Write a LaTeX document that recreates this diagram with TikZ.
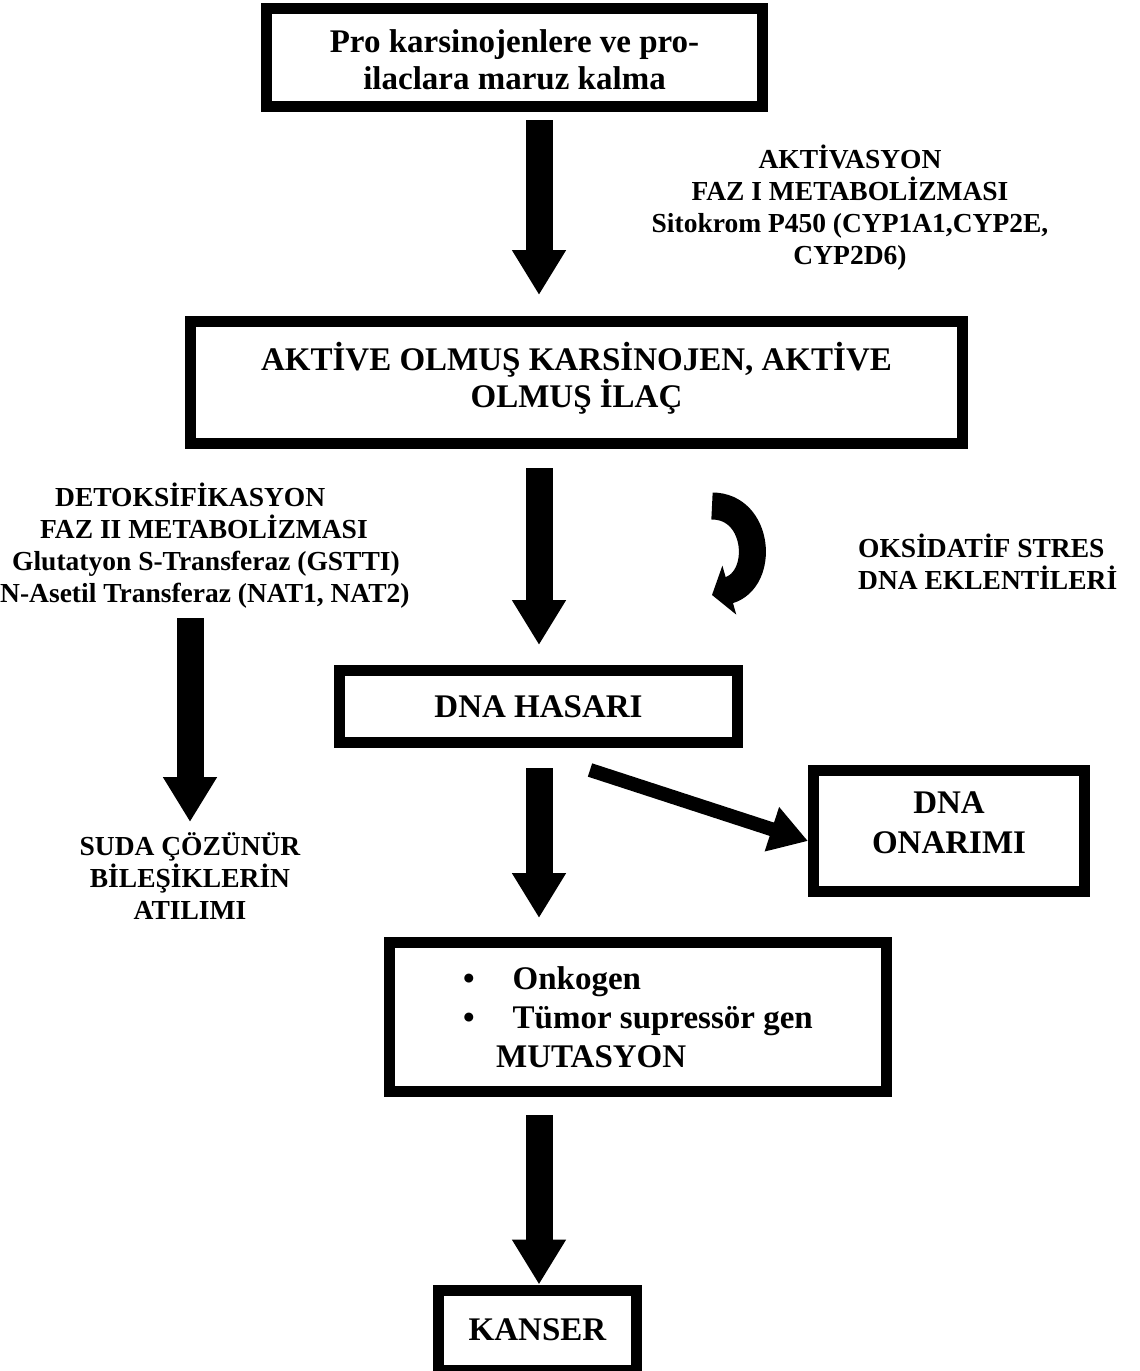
\documentclass[tikz,border=0pt]{standalone}
\usepackage{fontspec}
\setmainfont{Liberation Serif}
\usetikzlibrary{arrows.meta}
\tikzset{
  box/.style={draw, line width=11pt, align=center, inner sep=0pt,
    font=\fontsize{33}{37}\selectfont\bfseries},
  lbl/.style={align=center, inner sep=0pt, font=\fontsize{27.5}{32}\selectfont\bfseries},
  bigarrow/.style={line width=27pt, -{Triangle[length=45pt,width=51pt]}},
  thinarrow/.style={line width=14pt, -{Triangle[length=38pt,width=44pt]}},
  curvearrow/.style={line width=27pt, -{Triangle[length=18pt,width=50pt]}},
}
\begin{document}
\begin{tikzpicture}[x=1pt, y=-1pt]
\useasboundingbox (0,0) rectangle (1140,1371);
\coordinate (col) at (539,0);

\node[box, minimum width=496pt, minimum height=98pt] (pro) at (514.5,57.5)
  {\rule{0pt}{28pt}Pro karsinojenlere ve pro-\\ilaclara maruz kalma};
\node[box, minimum width=772pt, minimum height=122pt] (aktive) at (576.5,382.5)
  {AKTİVE OLMUŞ KARSİNOJEN, AKTİVE\\OLMUŞ İLAÇ\rule[-16pt]{0pt}{0pt}};
\node[box, minimum width=398pt, minimum height=72pt] (hasar) at (538.5,706.5) {DNA HASARI};
\node[box, minimum width=271pt, minimum height=121pt,
  font=\fontsize{33}{40}\selectfont\bfseries] (onarim) at (949,831)
  {DNA\\ONARIMI\rule[-16pt]{0pt}{0pt}};
\node[box, minimum width=497pt, minimum height=149pt, align=left,
  font=\fontsize{33}{39}\selectfont\bfseries] (mutasyon) at (638,1017)
  {\textbullet\hspace{38pt}Onkogen\\
   \textbullet\hspace{38pt}Tümor supressör gen\\
   \hspace*{33pt}MUTASYON};
\node[box, minimum width=198pt, minimum height=80pt] (kanser) at (537.5,1330) {KANSER};

\node[lbl] (aktivasyon) at (850,208)
  {AKTİVASYON\\FAZ I METABOLİZMASI\\Sitokrom P450 (CYP1A1,CYP2E,\\CYP2D6)};
\node[lbl, align=left, anchor=west] (detoks) at (0,545.5)
  {\hspace*{55pt}DETOKSİFİKASYON\\\hspace*{40pt}FAZ II METABOLİZMASI\\
   \hspace*{12pt}Glutatyon S-Transferaz (GSTTI)\\N-Asetil Transferaz (NAT1, NAT2)};
\node[lbl, align=left, anchor=west] (oksidatif) at (858,562)
  {OKSİDATİF STRES\\DNA EKLENTİLERİ};
\node[lbl] (suda) at (190,876) {SUDA ÇÖZÜNÜR\\BİLEŞİKLERİN\\ATILIMI};

\coordinate (l0) at (190,618);
\coordinate (l1) at (190,822);
\coordinate (d0) at (590,770);
\coordinate (c0) at (712,506);
\coordinate (c1) at (712,595);

\draw[bigarrow, shorten <=8pt, shorten >=21pt] (pro.south -| col) -- (aktive.north -| col);
\draw[bigarrow, shorten <=19pt, shorten >=20pt] (aktive.south -| col) -- (hasar.north -| col);
\draw[bigarrow, shorten <=20pt, shorten >=19pt] (hasar.south -| col) -- (mutasyon.north -| col);
\draw[bigarrow, shorten <=18pt] (mutasyon.south -| col) -- (kanser.north -| col);
\draw[bigarrow] (l0) -- (l1);
\draw[thinarrow] (d0) -- ([yshift=-10pt]onarim.west);
\draw[curvearrow] (c0) .. controls (760,506) and (765,580) .. (c1);

\end{tikzpicture}
\end{document}
